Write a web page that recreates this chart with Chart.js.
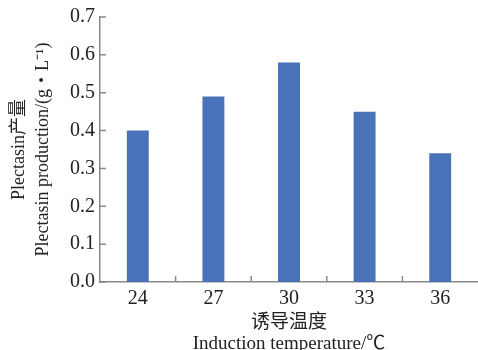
<!DOCTYPE html>
<html lang="zh">
<head>
    <meta charset="UTF-8">
    <title>Plectasin产量</title>
    <script src="https://cdn.jsdelivr.net/npm/chart.js"></script>
    <style>
        body { margin: 0; background: #fff; }
        #wrap { width: 478px; height: 350px; }
    </style>
</head>
<body>
    <div id="wrap"><canvas id="myChart"></canvas></div>
    <script>
        // dữ liệu
        const temps = ['24', '27', '30', '33', '36']
        const production = [0.40, 0.49, 0.58, 0.45, 0.34]
        const yTitle = ['Plectasin产量', 'Plectasin production/(g・L\u207B\u00B9)']
        const xTitle = ['诱导温度', 'Induction temperature/℃']

        const fontFam = '"Liberation Serif", "Noto Sans CJK SC", serif'
        const axisColor = '#8a8a8a'

        // vẽ vạch chia hướng vào trong
        const innerTicks = {
            id: 'innerTicks',
            afterDraw(chart) {
                const c = chart.ctx
                const xs = chart.scales.x
                const ys = chart.scales.y
                c.save()
                c.strokeStyle = axisColor
                c.lineWidth = 1.5
                c.beginPath()
                ys.ticks.forEach((t, i) => {
                    const y = ys.getPixelForTick(i)
                    c.moveTo(xs.left, y)
                    c.lineTo(xs.left + 6, y)
                })
                const w = (xs.right - xs.left) / temps.length
                for (let i = 1; i < temps.length; i++) {
                    const x = xs.left + w * i
                    c.moveTo(x, ys.bottom)
                    c.lineTo(x, ys.bottom - 6)
                }
                c.stroke()
                c.restore()
            }
        }

        new Chart(document.getElementById('myChart'), {
            type: 'bar',
            data: {
                labels: temps,
                datasets: [{
                    data: production,
                    backgroundColor: '#4a72b8',
                    barPercentage: 0.58,
                    categoryPercentage: 0.5
                }]
            },
            options: {
                responsive: true,
                maintainAspectRatio: false,
                animation: false,
                layout: { padding: { top: 17, right: 0, left: 0, bottom: 0 } },
                plugins: { legend: { display: false }, tooltip: { enabled: false } },
                scales: {
                    x: {
                        grid: { display: false, drawTicks: false },
                        border: { color: axisColor, width: 1.5 },
                        ticks: { color: '#222', font: { family: fontFam, size: 20 }, padding: 5 },
                        title: {
                            display: true, text: xTitle, color: '#222',
                            font: { family: fontFam, size: 19, lineHeight: 1.08 },
                            padding: { top: 0, bottom: -4 }
                        },
                        afterFit(s) { s.height = 68 }
                    },
                    y: {
                        min: 0, max: 0.7,
                        grid: { display: false, drawTicks: false },
                        border: { color: axisColor, width: 1.5 },
                        ticks: {
                            stepSize: 0.1, color: '#222', padding: 5,
                            font: { family: fontFam, size: 20 },
                            callback: v => v.toFixed(1)
                        },
                        title: {
                            display: true, text: yTitle, color: '#222',
                            font: { family: fontFam, size: 18, lineHeight: 1.3 },
                            padding: { top: 8, bottom: 0 }
                        },
                        afterFit(s) { s.width = 100 }
                    }
                }
            },
            plugins: [innerTicks]
        })
    </script>
</body>
</html>
